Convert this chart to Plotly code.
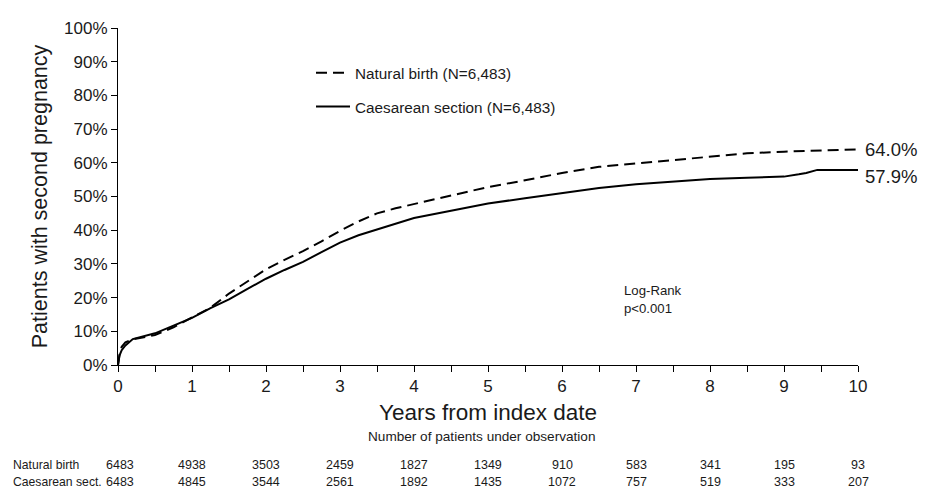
import plotly.graph_objects as go

# ---- data ----
years = [0, 0.02, 0.05, 0.1, 0.2, 0.3, 0.5, 0.75, 0.9, 1.0, 1.25, 1.5, 1.75, 2.0, 2.25, 2.5,
         2.75, 3.0, 3.25, 3.5, 3.75, 4.0, 4.5, 5.0, 5.5, 6.0, 6.5, 7.0, 7.5, 8.0, 8.5,
         9.0, 9.2, 9.3, 9.45, 10.0]
natural = [0, 3.0, 5.4, 6.7, 7.6, 8.0, 8.9, 11.2, 12.9, 14.0, 17.0, 21.2, 24.8, 28.4, 31.2, 33.8,
           36.7, 39.8, 42.6, 45.0, 46.5, 47.8, 50.2, 52.8, 54.8, 57.0, 58.8, 59.8, 61.0, 62.0,
           62.8, 63.3, 63.4, 63.5, 63.6, 64.0]
caesarean = [0, 2.8, 4.4, 5.8, 7.7, 8.3, 9.4, 11.7, 13.0, 14.0, 16.9, 19.5, 22.6, 25.6, 28.2, 30.6,
             33.5, 36.3, 38.5, 40.2, 41.8, 43.6, 45.8, 47.9, 49.5, 51.0, 52.5, 53.6, 54.5, 55.2,
             55.6, 55.9, 56.6, 57.0, 57.9, 57.9]

risk_times = [0, 1, 2, 3, 4, 5, 6, 7, 8, 9, 10]
risk_natural = [6483, 4938, 3503, 2459, 1827, 1349, 910, 583, 341, 195, 93]
risk_caesarean = [6483, 4845, 3544, 2561, 1892, 1435, 1072, 757, 519, 333, 207]

y_ticks = [0, 10, 20, 30, 40, 50, 60, 70, 80, 90, 100]
x_ticks = [0, 1, 2, 3, 4, 5, 6, 7, 8, 9, 10]

FONT = "Liberation Sans, Arial, sans-serif"
TXT = "#1a1a1a"

# plot area in figure pixels (page has an 8px body margin)
L, T, W, H = 110, 11, 740, 346


def py(fig_y):
    """figure pixel y -> paper y"""
    return (T + H - fig_y) / H


def px(fig_x):
    return (fig_x - L) / W


fig = go.Figure()
fig.add_trace(go.Scatter(
    x=years, y=natural, mode="lines", name="Natural birth (N=6,483)",
    line=dict(color="black", width=2, dash="11px,6px"), legendgroup="a"))
fig.add_trace(go.Scatter(
    x=years, y=caesarean, mode="lines", name="Caesarean section (N=6,483)",
    line=dict(color="black", width=2), legendgroup="b"))

# end labels
fig.add_annotation(x=years[-1], y=natural[-1], text=f"{natural[-1]:.1f}%", showarrow=False,
                   xanchor="left", xshift=5, font=dict(size=18.5, color=TXT, family=FONT))
fig.add_annotation(x=years[-1], y=caesarean[-1], text=f"{caesarean[-1]:.1f}%", showarrow=False,
                   xanchor="left", xshift=5, yshift=-7, font=dict(size=18.5, color=TXT, family=FONT))

# log-rank
fig.add_annotation(x=px(614), xref="paper", y=py(280), yref="paper", text="Log-Rank",
                   showarrow=False, xanchor="left", yanchor="middle",
                   font=dict(size=13.2, color=TXT, family=FONT))
fig.add_annotation(x=px(614), xref="paper", y=py(299), yref="paper", text="p<0.001",
                   showarrow=False, xanchor="left", yanchor="middle",
                   font=dict(size=13.2, color=TXT, family=FONT))

# number at risk table
fig.add_annotation(x=px(473), xref="paper", y=py(430), yref="paper", yanchor="middle",
                   showarrow=False, text="Number of patients under observation",
                   font=dict(size=13.6, color=TXT, family=FONT))
rows = [("Natural birth", risk_natural, 460), ("Caesarean sect.", risk_caesarean, 477)]
for label, vals, ypix in rows:
    fig.add_annotation(x=px(3), xref="paper", y=py(ypix), yref="paper", xanchor="left",
                       yanchor="middle", showarrow=False, text=label,
                       font=dict(size=12.2, color=TXT, family=FONT))
    for t, v in zip(risk_times, vals):
        fig.add_annotation(x=t, xref="x", y=py(ypix), yref="paper", yanchor="middle",
                           showarrow=False, text=str(v), xshift=2 if t == 0 else 0,
                           font=dict(size=12.5, color=TXT, family=FONT))

fig.update_layout(
    width=932, height=490,
    margin=dict(l=L, r=932 - L - W, t=T, b=490 - T - H),
    paper_bgcolor="white", plot_bgcolor="white",
    font=dict(family=FONT, color=TXT),
    showlegend=True,
    legend=dict(x=px(303), y=py(40), xanchor="left", yanchor="top", bgcolor="rgba(0,0,0,0)",
                font=dict(size=15.3, family=FONT, color=TXT), tracegroupgap=11,
                traceorder="grouped", itemwidth=34),
    xaxis=dict(range=[0, 10], tickvals=x_ticks, ticks="outside", ticklen=6, tickcolor="black",
               showline=True, linecolor="black", linewidth=1, showgrid=False, zeroline=False,
               minor=dict(dtick=0.5, ticks="outside", ticklen=6, tickcolor="black"),
               tickfont=dict(size=17, family=FONT, color=TXT),
               title=dict(text="Years from index date", font=dict(size=22.5, family=FONT, color=TXT),
                          standoff=8)),
    yaxis=dict(range=[0, 100], tickvals=y_ticks, ticktext=[f"{v}%" for v in y_ticks],
               ticks="outside", ticklen=6, tickcolor="black", showline=True, linecolor="black",
               linewidth=1, showgrid=False, zeroline=False,
               tickfont=dict(size=17, family=FONT, color=TXT),
               title=dict(text="Patients with second pregnancy",
                          font=dict(size=21.5, family=FONT, color=TXT), standoff=10)),
)

fig.write_html("out.html")
